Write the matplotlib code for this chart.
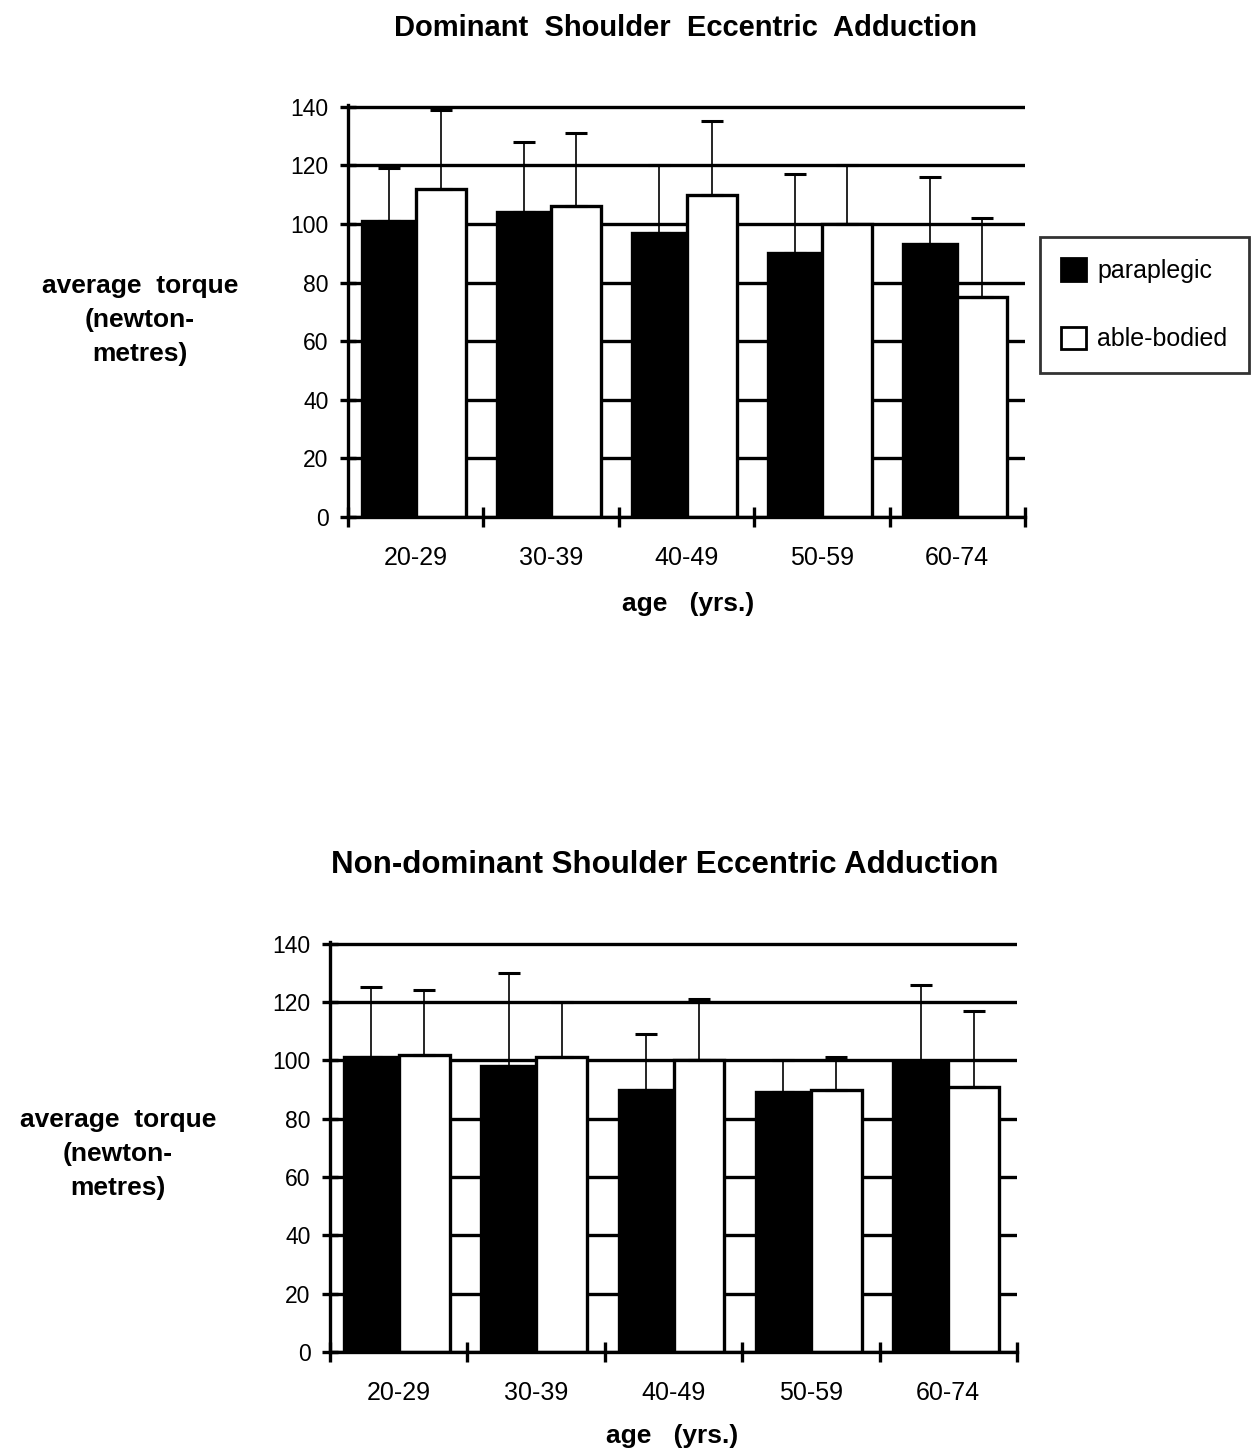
import numpy as np
import matplotlib.pyplot as plt
from matplotlib.patches import Patch

plt.rcParams['font.family'] = ['Liberation Sans', 'DejaVu Sans']

ages = ['20-29', '30-39', '40-49', '50-59', '60-74']

# dominant shoulder, mean torque and upper SD (N m)
dom_para = [101, 104, 97, 90, 93]
dom_para_sd = [18, 24, 23, 27, 23]
dom_able = [112, 106, 110, 100, 75]
dom_able_sd = [27, 25, 25, 20, 27]

# non-dominant shoulder
nd_para = [101, 98, 90, 89, 99]
nd_para_sd = [24, 32, 19, 11, 27]
nd_able = [102, 101, 100, 90, 91]
nd_able_sd = [22, 19, 21, 11, 26]

yticks = [0, 20, 40, 60, 80, 100, 120, 140]

LW = 2.4


def draw_panel(ax, para, para_sd, able, able_sd):
    x = np.arange(len(ages))
    ax.set_axisbelow(True)
    ax.yaxis.grid(True, color='black', lw=LW)
    ax.bar(x - 0.2, para, width=0.4, color='black', edgecolor='black', lw=LW, zorder=2)
    ax.bar(x + 0.185, able, width=0.37, color='white', edgecolor='black', lw=LW, zorder=2)
    ax.errorbar(x - 0.2, para, yerr=[np.zeros(len(para)), para_sd], fmt='none',
                ecolor='black', elinewidth=1.2, capsize=8, capthick=2.2, zorder=3)
    ax.errorbar(x + 0.185, able, yerr=[np.zeros(len(able)), able_sd], fmt='none',
                ecolor='black', elinewidth=1.2, capsize=8, capthick=2.2, zorder=3)

    ax.set_xlim(-0.5, 4.5)
    ax.set_ylim(0, 140.6)
    ax.set_yticks(yticks)
    ax.set_yticklabels([str(v) for v in yticks], fontsize=16.5)
    ax.tick_params(axis='y', direction='inout', length=12, width=LW, pad=8)

    ax.set_xticks(np.arange(-0.5, 5, 1.0))
    ax.set_xticklabels([])
    ax.set_xticks(x, minor=True)
    ax.set_xticklabels(ages, minor=True, fontsize=18)
    ax.tick_params(axis='x', which='major', direction='inout', length=14, width=LW)
    ax.tick_params(axis='x', which='minor', length=0, pad=21)

    for s in ['top', 'right']:
        ax.spines[s].set_visible(False)
    for s in ['left', 'bottom']:
        ax.spines[s].set_linewidth(LW)


fig = plt.figure(figsize=(12.59, 14.5), dpi=100)

ax1 = fig.add_axes([348 / 1259, 933 / 1450, 677 / 1259, 412 / 1450])
draw_panel(ax1, dom_para, dom_para_sd, dom_able, dom_able_sd)

ax2 = fig.add_axes([330 / 1259, 98 / 1450, 687 / 1259, 410 / 1450])
draw_panel(ax2, nd_para, nd_para_sd, nd_able, nd_able_sd)

fig.text(686 / 1259, 1 - 28 / 1450, 'Dominant  Shoulder  Eccentric  Adduction',
         ha='center', va='center', fontsize=21, fontweight='bold')
fig.text(665 / 1259, 1 - 865 / 1450, 'Non-dominant Shoulder Eccentric Adduction',
         ha='center', va='center', fontsize=22.5, fontweight='bold')

ylab = 'average  torque\n(newton-\nmetres)'
fig.text(140 / 1259, 1 - 320 / 1450, ylab, ha='center', va='center',
         fontsize=19, fontweight='bold', linespacing=1.55)
fig.text(118 / 1259, 1 - 1154 / 1450, ylab, ha='center', va='center',
         fontsize=19, fontweight='bold', linespacing=1.55)

fig.text(688 / 1259, 1 - 604 / 1450, 'age   (yrs.)', ha='center', va='center',
         fontsize=19, fontweight='bold')
fig.text(672 / 1259, 1 - 1436 / 1450, 'age   (yrs.)', ha='center', va='center',
         fontsize=19, fontweight='bold')

handles = [Patch(facecolor='black', edgecolor='black', lw=2, label='paraplegic'),
           Patch(facecolor='white', edgecolor='black', lw=2, label='able-bodied')]
leg = fig.legend(handles=handles, loc='upper left',
                 bbox_to_anchor=(1040 / 1259, 1 - 237 / 1450),
                 fontsize=18, frameon=True, fancybox=False, handlelength=1.0,
                 handleheight=1.0, handletextpad=0.45, labelspacing=1.75,
                 borderpad=0.85, borderaxespad=0)
leg.get_frame().set_edgecolor('black')
leg.get_frame().set_linewidth(2)

fig.savefig('out.png', dpi=100)
